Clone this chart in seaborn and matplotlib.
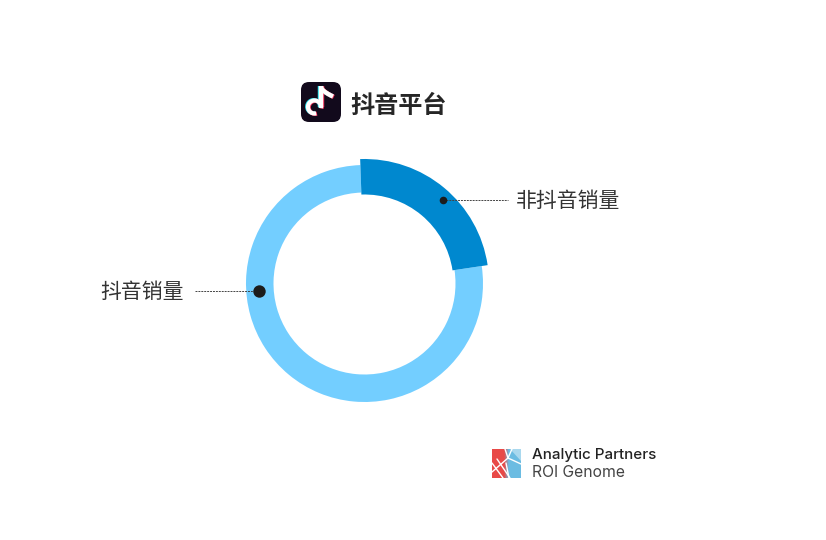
import numpy as np
import matplotlib
matplotlib.use("Agg")
import matplotlib.pyplot as plt
from matplotlib.patches import FancyBboxPatch, Polygon, Arc
import seaborn as sns

# data
title = "抖音平台"
categories = ["非抖音销量", "抖音销量"]
shares = [23.2, 76.8]
brand_lines = ["Analytic Partners", "ROI Genome"]

sns.set_theme(style="white")
plt.rcParams["font.family"] = ["Noto Sans CJK SC", "DejaVu Sans"]

W, H = 826, 540
fig = plt.figure(figsize=(W / 100, H / 100), dpi=100, facecolor="white")
ax = fig.add_axes([0, 0, 1, 1])


def Y(py):
    return H - py


center = (364.5, Y(283.5))
# light ring
ax.pie(shares, radius=118.5, center=center, startangle=92, counterclock=False, frame=True,
       colors=["none", "#73CEFF"], wedgeprops=dict(width=27.5, linewidth=0))
# dark segment, wider than the ring
ax.pie(shares, radius=124.5, center=center, startangle=92, counterclock=False, frame=True,
       colors=["#0088CF", "none"], wedgeprops=dict(width=35.5, linewidth=0))
ax.set_xlim(0, W)
ax.set_ylim(0, H)
ax.set_aspect("auto")
ax.axis("off")

# leaders
dark = "#1c1c1c"
ax.plot([443, 508], [Y(200)] * 2, color="#444444", lw=0.7, ls=(0, (2, 1)), zorder=5)
ax.plot([195, 259], [Y(291)] * 2, color="#444444", lw=0.7, ls=(0, (2, 1)), zorder=5)
ax.scatter([443], [Y(200)], s=30, color=dark, zorder=6, linewidths=0)
ax.scatter([259], [Y(291)], s=80, color=dark, zorder=6, linewidths=0)
ax.text(515.5, Y(201), categories[0], fontsize=15, color="#333333", va="center", ha="left")
ax.text(183.5, Y(292), categories[1], fontsize=15, color="#333333", va="center", ha="right")

# title
ax.text(350.5, Y(105.5), title, fontsize=17.4, fontweight="bold", color="#262626", va="center", ha="left")

# app icon
ax.add_patch(FancyBboxPatch((308, Y(115)), 26, 26, boxstyle="round,pad=7,rounding_size=8",
                            fc="#120A1C", ec="none", zorder=3))


def note(dx, dy, col, z):
    cx, cy = 314.5 + dx, Y(107) + dy
    ax.add_patch(Arc((cx, cy), 13, 13, theta1=-10, theta2=285, lw=3.0, color=col, zorder=z))
    ax.plot([cx + 6.5, cx + 6.5], [cy, Y(86) + dy], color=col, lw=3.2, zorder=z, solid_capstyle="butt")
    t = np.linspace(0, 1, 20)
    ax.plot(cx + 6.5 + 12 * t, Y(87) + dy - 9.5 * t ** 0.6, color=col, lw=3.2, zorder=z, solid_capstyle="butt")


note(-0.8, 0.4, "#27E3EE", 4)
note(0.8, -0.4, "#F02A55", 4)
note(0, 0, "#FFFFFF", 5)

# partner logo
grad = np.linspace(0, 1, 60)[None, :, None]
red = np.array([0.91, 0.29, 0.28])
blue = np.array([0.42, 0.74, 0.89])
mix = np.clip((grad - 0.42) / 0.16, 0, 1)
ax.imshow(red * (1 - mix) + blue * mix, extent=(492, 521, Y(478), Y(449)), aspect="auto", zorder=3)
ax.set_xlim(0, W)
ax.set_ylim(0, H)
ax.add_patch(Polygon([(510, Y(449)), (521, Y(449)), (521, Y(461))], fc="#A9D8EE", ec="none", zorder=4))
for pts in ([(492, 472), (508, 458), (512, 449)], [(492, 463), (503, 478)], [(497, 459), (510, 478)],
            [(508, 458), (521, 464)], [(506, 463), (509, 478)], [(505, 449), (508, 458)]):
    xs, ys = zip(*pts)
    ax.plot(xs, [Y(v) for v in ys], color="white", lw=1.0, zorder=5)

ax.text(532, Y(455.5), brand_lines[0], fontsize=10.9, family="Inter", fontweight="medium", color="#222222", va="center", ha="left")
ax.text(532, Y(472.5), brand_lines[1], fontsize=11.3, family="Inter", color="#444444", va="center", ha="left")

fig.savefig("out.png", dpi=100, facecolor="white")
